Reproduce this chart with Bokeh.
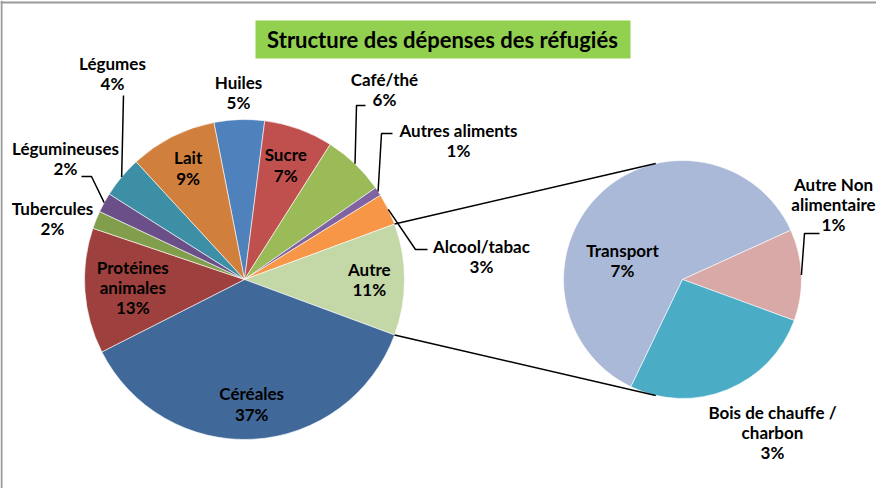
import math
from bokeh.plotting import figure
from bokeh.models import ColumnDataSource, Range1d, Span
from bokeh.core.properties import value
from bokeh.embed import file_html
from bokeh.resources import INLINE

# ---------------- data ----------------
title_text = "Structure des dépenses des réfugiés"

main_names = ["Huiles", "Sucre", "Café/thé", "Autres aliments", "Alcool/tabac", "Autre",
              "Céréales", "Protéines\nanimales", "Tubercules", "Légumineuses", "Légumes", "Lait"]
main_values_food = [5.1, 7.0, 6.3, 0.9, 3.2, None, 37.0, 12.7, 1.8, 2.0, 4.2, 8.8]
main_colors = ["#4F81BD", "#C0504D", "#9BBB59", "#8064A2", "#F79646", "#C4D7A6",
               "#40699A", "#9E413E", "#809E4C", "#6A4F89", "#3D8FA6", "#D07F3C"]

sub_names = ["Transport", "Autre Non\nalimentaire", "Bois de chauffe /\ncharbon"]
sub_values = [6.9, 1.4, 3.0]
sub_colors = ["#AAB9D7", "#D9A9A8", "#4BACC6"]

main_values = [sum(sub_values) if v is None else v for v in main_values_food]

# ---------------- layout helpers (screen px -> data) ----------------
W, H = 876, 488
def X(xs): return xs
def Y(ys): return 504 - ys

FONT = "Lato"
FS = "17px"

main_c = (252, 287); main_r = 160
sub_c = (690, 287); sub_r = 119
sub_start = 205.7          # clockwise degrees from 12 o'clock where the second pie starts
connector_deg = 13         # position of connector tangent points on the second pie

def slices(values, start):
    total = sum(values)
    out = []
    t = start
    for v in values:
        span = 360.0 * v / total
        out.append((t, t + span))
        t += span
    return out

# main pie: rotate so that the "Autre" slice is centred at 3 o'clock
idx_autre = main_names.index("Autre")
tot = sum(main_values)
before = sum(main_values[:idx_autre])
main_start = 90 - 360.0 * (before + main_values[idx_autre] / 2) / tot
main_sl = slices(main_values, main_start)
sub_sl = slices(sub_values, sub_start)

def pt(center, r, theta):
    th = math.radians(theta)
    return (X(center[0]) + r * math.sin(th), Y(center[1]) + r * math.cos(th))

p = figure(width=W, height=H, output_backend="svg", toolbar_location=None,
           x_range=Range1d(8, 8 + W), y_range=Range1d(Y(8 + H), Y(8)),
           x_axis_type=None, y_axis_type=None, min_border=0,
           background_fill_color="white", border_fill_color="white")
p.grid.visible = False
p.outline_line_color = None

# frame lines (top/left of the chart area)
p.add_layout(Span(location=Y(10), dimension="width", line_color="#9A9A9A", line_width=2))
p.add_layout(Span(location=X(9), dimension="height", line_color="#9A9A9A", line_width=2))

def wedge_source(center, r, sl, colors):
    return ColumnDataSource(dict(
        x=[X(center[0])] * len(sl), y=[Y(center[1])] * len(sl), r=[r] * len(sl),
        start=[math.radians(90 - b) for a, b in sl],
        end=[math.radians(90 - a) for a, b in sl],
        color=colors))

p.wedge(x="x", y="y", radius="r", start_angle="start", end_angle="end",
        fill_color="color", line_color="white", line_width=0.6,
        source=wedge_source(main_c, main_r, main_sl, main_colors))
p.wedge(x="x", y="y", radius="r", start_angle="start", end_angle="end",
        fill_color="color", line_color="white", line_width=0.6,
        source=wedge_source(sub_c, sub_r, sub_sl, sub_colors))

# connector lines between the "Autre" slice and the second pie
a0, a1 = main_sl[idx_autre]
p0 = pt(main_c, main_r, a0); q0 = pt(sub_c, sub_r, 360 - connector_deg)
p1 = pt(main_c, main_r, a1); q1 = pt(sub_c, sub_r, 180 + connector_deg)
p.line([p0[0], q0[0]], [p0[1], q0[1]], line_color="black", line_width=1.5)
p.line([p1[0], q1[0]], [p1[1], q1[1]], line_color="black", line_width=1.5)

# label layout: inside labels use radial fraction, outside labels use text position + leader elbows
inside_frac = {"Sucre": 0.76, "Lait": 0.78, "Autre": 0.78, "Céréales": 0.78, "Protéines\nanimales": 0.70}
outside = {
    "Huiles": ((246, 100), None),
    "Café/thé": ((392, 97), [(373, 113), (364, 113)]),
    "Autres aliments": ((466, 148), [(400, 141), (389, 141)]),
    "Alcool/tabac": ((489, 264), [(435, 257), (423, 257)]),
    "Tubercules": ((60, 226), None),
    "Légumineuses": ((73, 166), [(89, 184), (99, 184)]),
    "Légumes": ((120, 81), [(131, 103)]),
}
sub_layout = {
    "Transport": ((630, 268), None),
    "Autre Non\nalimentaire": ((841, 212), [(827, 241), (812, 241)]),
    "Bois de chauffe /\ncharbon": ((780, 440), None),
}

tx, ty, tt = [], [], []

def add_labels(names, vals, sl, center, r, inside, layout):
    for name, v, (a, b) in zip(names, vals, sl):
        txt = f"{name}\n{int(v + 0.5)}%"
        mid = (a + b) / 2
        if name in inside:
            x, y = pt(center, r * inside[name], mid)
        else:
            (xs, ys), elbows = layout[name]
            x, y = X(xs), Y(ys)
            if elbows:
                e = pt(center, r, mid)
                lx = [X(px) for px, py in elbows] + [e[0]]
                ly = [Y(py) for px, py in elbows] + [e[1]]
                p.line(lx, ly, line_color="black", line_width=1.5)
        tx.append(x); ty.append(y); tt.append(txt)

add_labels(main_names, main_values, main_sl, main_c, main_r, inside_frac, outside)
add_labels(sub_names, sub_values, sub_sl, sub_c, sub_r, {}, sub_layout)

p.text(x=tx, y=ty, text=tt, text_font=value(FONT), text_font_style="bold",
       text_font_size=FS, text_align="center", text_baseline="middle",
       text_line_height=0.97, text_color="black")

# title box
p.quad(left=[X(263)], right=[X(638)], top=[Y(28)], bottom=[Y(66)],
       fill_color="#92D050", line_color=None)
p.text(x=[X(450)], y=[Y(47)], text=[title_text], text_font=value(FONT),
       text_font_style="bold", text_font_size="22px", text_align="center",
       text_baseline="middle", text_color="black")

open("out.html", "w").write(file_html(p, INLINE))
